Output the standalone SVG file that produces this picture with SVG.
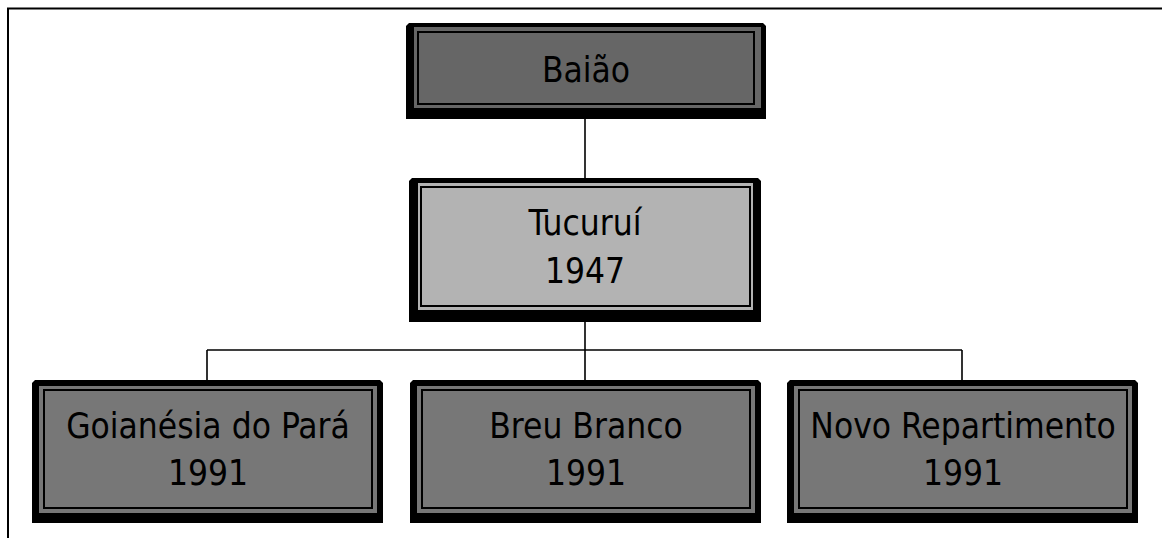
<svg xmlns="http://www.w3.org/2000/svg" width="1162" height="538" viewBox="0 0 1162 538">
<style>
.frame{fill:none;stroke:#000;stroke-width:2}
.outer{fill:#000}
.line{fill:none;stroke:#000;stroke-width:2}
.dark{fill:#666666}
.mid{fill:#777777}
.light{fill:#b3b3b3}
.conn{fill:none;stroke:#000;stroke-width:1.6}
text{font-family:"DejaVu Sans Condensed","DejaVu Sans","Liberation Sans",sans-serif;font-stretch:condensed;font-size:35px;fill:#000;text-anchor:middle}
</style>
<rect x="0" y="0" width="1162" height="538" fill="#fff"/>
<g id="frame">
<path class="frame" d="M1162,8.5 H8 V538"/>
</g>
<g id="connectors">
<path class="conn" d="M585,119 V178"/>
<path class="conn" d="M585,322 V350 M207,350 H962 M207,350 V380 M585,350 V380 M962,350 V380"/>
</g>
<g id="node-baiao">
<path class="outer" d="M406,26 L409,23 L763,23 L766,26 L766,119 L406,119 Z"/>
<rect class="dark" x="414" y="27" width="347" height="81"/>
<rect class="dark line" x="418" y="32" width="336" height="72"/>
<text x="586" y="82">Baião</text>
</g>
<g id="node-tucurui">
<path class="outer" d="M409,181 L412,178 L758,178 L761,181 L761,322 L409,322 Z"/>
<rect class="light" x="418" y="183" width="335" height="127"/>
<rect class="light line" x="421" y="187" width="329" height="119"/>
<text x="585" y="235">Tucuruí</text>
<text x="585" y="283">1947</text>
</g>
<g id="node-goianesia">
<path class="outer" d="M32,383 L35,380 L380,380 L383,383 L383,523 L32,523 Z"/>
<rect class="mid" x="39" y="386" width="338" height="127"/>
<rect class="mid line" x="44" y="390" width="328" height="118"/>
<text x="208" y="438">Goianésia do Pará</text>
<text x="208" y="485">1991</text>
</g>
<g id="node-breu" transform="translate(378,0)">
<path class="outer" d="M32,383 L35,380 L380,380 L383,383 L383,523 L32,523 Z"/>
<rect class="mid" x="39" y="386" width="338" height="127"/>
<rect class="mid line" x="44" y="390" width="328" height="118"/>
<text x="208" y="438">Breu Branco</text>
<text x="208" y="485">1991</text>
</g>
<g id="node-novo" transform="translate(755,0)">
<path class="outer" d="M32,383 L35,380 L380,380 L383,383 L383,523 L32,523 Z"/>
<rect class="mid" x="39" y="386" width="338" height="127"/>
<rect class="mid line" x="44" y="390" width="328" height="118"/>
<text x="208" y="438">Novo Repartimento</text>
<text x="208" y="485">1991</text>
</g>
</svg>
